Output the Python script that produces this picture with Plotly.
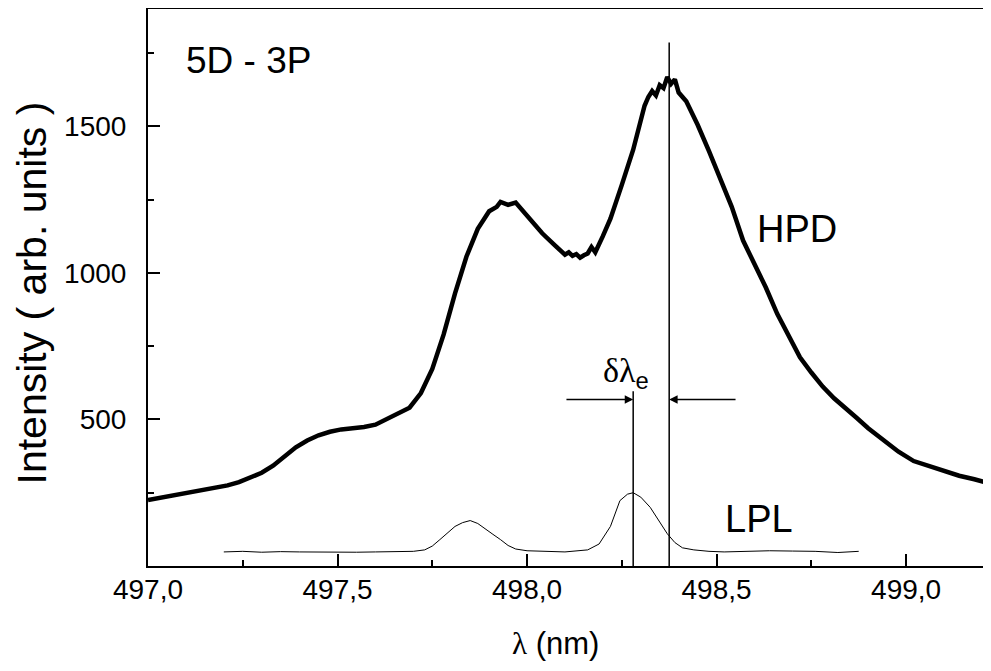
import plotly.graph_objects as go

# HPD spectrum
hpd_x = [497.00, 497.03, 497.06, 497.09, 497.12, 497.15, 497.18, 497.21, 497.24, 497.27,
         497.30, 497.33, 497.36, 497.39, 497.42, 497.45, 497.48, 497.51, 497.54, 497.57,
         497.60, 497.63, 497.66, 497.69, 497.72, 497.75, 497.78, 497.81, 497.84, 497.87,
         497.90, 497.92, 497.93, 497.95, 497.97, 497.98, 498.01, 498.04, 498.07, 498.09,
         498.10, 498.11, 498.12, 498.13, 498.14, 498.15, 498.16, 498.17, 498.18, 498.20,
         498.22, 498.25, 498.28, 498.31, 498.32, 498.33, 498.34, 498.35, 498.36, 498.37,
         498.38, 498.39, 498.40, 498.42, 498.45, 498.48, 498.51, 498.54, 498.57, 498.60,
         498.63, 498.66, 498.69, 498.72, 498.75, 498.78, 498.81, 498.84, 498.87, 498.90,
         498.94, 498.98, 499.02, 499.06, 499.10, 499.14, 499.18, 499.22]
hpd_y = [225, 232, 238, 246, 252, 258, 266, 275, 286, 300,
         318, 342, 376, 405, 428, 446, 458, 466, 470, 474,
         482, 500, 520, 540, 590, 672, 790, 930, 1055, 1150,
         1210, 1225, 1242, 1232, 1240, 1225, 1185, 1135, 1098, 1072,
         1062, 1070, 1058, 1064, 1052, 1060, 1066, 1088, 1070, 1125,
         1185, 1300, 1420, 1570, 1600, 1620, 1605, 1640, 1630, 1668,
         1645, 1660, 1615, 1585, 1505, 1415, 1320, 1225, 1110, 1030,
         950, 860, 785, 712, 660, 612, 572, 540, 505, 470,
         430, 390, 358, 340, 322, 308, 296, 282]

# LPL spectrum
lpl_x = [497.20, 497.25, 497.30, 497.35, 497.40, 497.45, 497.50, 497.55, 497.60, 497.65,
         497.70, 497.73, 497.75, 497.77, 497.79, 497.81, 497.83, 497.85, 497.87, 497.89,
         497.91, 497.93, 497.95, 497.97, 498.00, 498.05, 498.10, 498.16, 498.19, 498.22,
         498.245, 498.265, 498.28, 498.30, 498.325, 498.35, 498.37, 498.39, 498.41, 498.44,
         498.48, 498.52, 498.58, 498.64, 498.70, 498.76, 498.82, 498.875]
lpl_y = [48, 50, 47, 49, 48, 47, 46, 47, 48, 48,
         50, 55, 68, 90, 112, 135, 148, 155, 145, 128,
         108, 90, 70, 58, 52, 50, 48, 55, 75, 135,
         223, 245, 250, 235, 200, 150, 110, 80, 62, 55,
         50, 48, 50, 52, 51, 50, 46, 50]

x_tick_vals = [497.0, 497.5, 498.0, 498.5, 499.0]
x_tick_text = ["497,0", "497,5", "498,0", "498,5", "499,0"]
x_minor_vals = [497.25, 497.75, 498.25, 498.75]
y_tick_vals = [500, 1000, 1500]
y_tick_text = ["500", "1000", "1500"]
y_minor_vals = [250, 750, 1250, 1750]

lambda_hpd = 498.375
lambda_lpl = 498.28
hpd_line_top = 1786
lpl_line_top = 596
arrow_y = 568
arrow_left_tail = 498.10
arrow_right_tail = 498.554

FONT = "Liberation Sans, Arial, sans-serif"

fig = go.Figure()
fig.add_trace(go.Scatter(x=hpd_x, y=hpd_y, mode="lines",
                         line=dict(color="black", width=4.5), showlegend=False))
fig.add_trace(go.Scatter(x=lpl_x, y=lpl_y, mode="lines",
                         line=dict(color="black", width=1), showlegend=False))

fig.add_shape(type="line", x0=lambda_hpd, x1=lambda_hpd, y0=0, y1=hpd_line_top,
              xref="x", yref="y", line=dict(color="black", width=1.5))
fig.add_shape(type="line", x0=lambda_lpl, x1=lambda_lpl, y0=0, y1=lpl_line_top,
              xref="x", yref="y", line=dict(color="black", width=1.5))

fig.add_annotation(x=lambda_lpl, y=arrow_y, ax=arrow_left_tail, ay=arrow_y,
                   xref="x", yref="y", axref="x", ayref="y", text="",
                   showarrow=True, arrowhead=2, arrowsize=1.3, arrowwidth=1.3,
                   arrowcolor="black", standoff=0, startstandoff=0)
fig.add_annotation(x=lambda_hpd, y=arrow_y, ax=arrow_right_tail, ay=arrow_y,
                   xref="x", yref="y", axref="x", ayref="y", text="",
                   showarrow=True, arrowhead=2, arrowsize=1.3, arrowwidth=1.3,
                   arrowcolor="black", standoff=0, startstandoff=0)

fig.add_annotation(x=498.195, y=657, xref="x", yref="y", xanchor="left", yanchor="middle",
                   text="δλ<sub><span style='font-family:Liberation Sans'>e</span></sub>",
                   showarrow=False, font=dict(family="Liberation Serif, Times New Roman, serif",
                                              size=34, color="black"))
fig.add_annotation(x=498.713, y=1151, xref="x", yref="y", text="HPD", showarrow=False,
                   xanchor="center", yanchor="middle",
                   font=dict(family=FONT, size=38, color="black"))
fig.add_annotation(x=498.612, y=162, xref="x", yref="y", text="LPL", showarrow=False,
                   xanchor="center", yanchor="middle",
                   font=dict(family=FONT, size=38, color="black"))
fig.add_annotation(x=497.266, y=1723, xref="x", yref="y", text="5D - 3P", showarrow=False,
                   xanchor="center", yanchor="middle",
                   font=dict(family=FONT, size=37, color="black"))

fig.add_annotation(x=0, y=0.5, xref="paper", yref="paper", xanchor="center", yanchor="middle",
                   xshift=-117, yshift=-6,
                   text="Intensity ( arb. units )", textangle=-90, showarrow=False,
                   font=dict(family=FONT, size=41, color="black"))
fig.add_annotation(x=0.483, y=0, xref="paper", yref="paper", xanchor="center", yanchor="middle",
                   yshift=-77,
                   text="<span style='font-family:Liberation Serif'>λ</span> (nm)",
                   showarrow=False, font=dict(family=FONT, size=31, color="black"))

fig.update_xaxes(range=[497.0, 499.224], tickvals=x_tick_vals, ticktext=x_tick_text,
                 ticks="inside", ticklen=12, tickwidth=2, tickcolor="black",
                 showline=True, linecolor="black", linewidth=2, mirror=True,
                 showgrid=False, zeroline=False, ticklabelstandoff=-3,
                 tickfont=dict(family=FONT, size=28, color="black"),
                 minor=dict(tickvals=x_minor_vals, ticks="inside", ticklen=6,
                            tickwidth=2, tickcolor="black", showgrid=False))
fig.update_yaxes(range=[0, 1900], tickvals=y_tick_vals, ticktext=y_tick_text,
                 ticks="inside", ticklen=12, tickwidth=2, tickcolor="black",
                 showline=True, linecolor="black", linewidth=2, mirror=False,
                 showgrid=False, zeroline=False, ticklabelstandoff=14,
                 tickfont=dict(family=FONT, size=28, color="black"),
                 minor=dict(tickvals=y_minor_vals, ticks="inside", ticklen=6,
                            tickwidth=2, tickcolor="black", showgrid=False))

# page body has an 8px margin; offset the figure so the plot area lands where the reference has it
fig.update_layout(width=983, height=663, margin=dict(l=140, r=0, t=1, b=105),
                  plot_bgcolor="white", paper_bgcolor="white", showlegend=False)

fig.write_html("out.html")
